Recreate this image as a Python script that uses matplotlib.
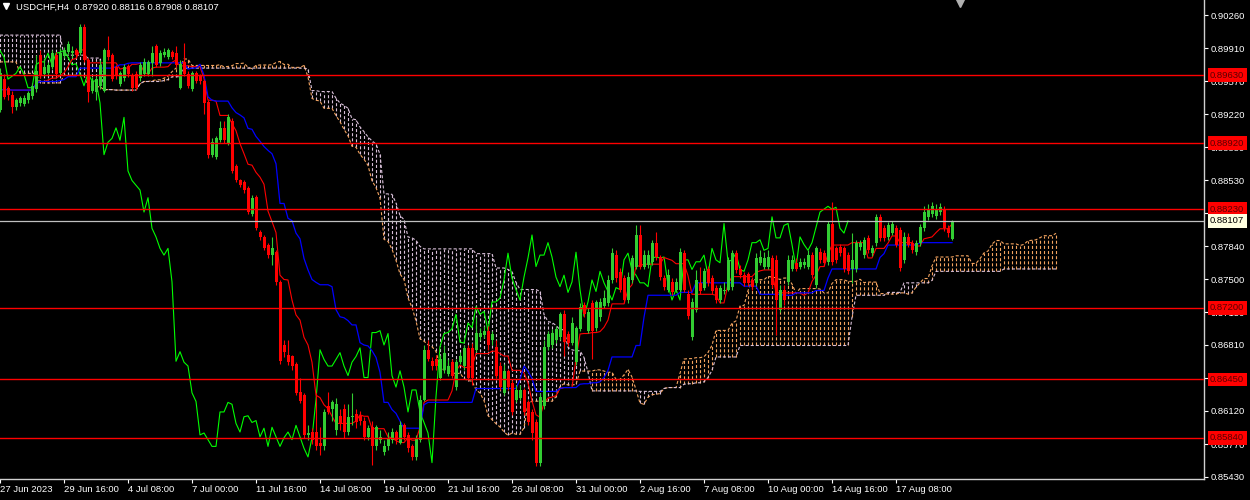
import numpy as np
import pandas as pd
import matplotlib
matplotlib.use('Agg')
import matplotlib.pyplot as plt
import matplotlib.transforms as mtransforms

plt.rcParams['font.family'] = ['Liberation Sans', 'DejaVu Sans']
plt.rcParams['lines.scale_dashes'] = False

symbol = 'USDCHF,H4'
last_ohlc = [0.87920, 0.88116, 0.87908, 0.88107]

# H4 candles, 27 Jun 2023 00:00 .. 21 Aug 2023 16:00
opens = [
    0.8927, 0.8959, 0.8950, 0.8942, 0.8930, 0.8934, 0.8933, 0.8937, 0.8941, 0.8949,
    0.8984, 0.8964, 0.8965, 0.8972, 0.8984, 0.8965, 0.8983, 0.8987, 0.8986, 0.8989,
    0.8986, 0.9013, 0.8979, 0.8947, 0.8945, 0.8952, 0.8947, 0.8989, 0.8984, 0.8972,
    0.8954, 0.8960, 0.8973, 0.8962, 0.8964, 0.8960, 0.8964, 0.8964, 0.8976, 0.8994,
    0.8976, 0.8984, 0.8982, 0.8987, 0.8986, 0.8950, 0.8977, 0.8964, 0.8949, 0.8965,
    0.8962, 0.8957, 0.8935, 0.8880, 0.8878, 0.8895, 0.8908, 0.8892, 0.8915, 0.8868,
    0.8853, 0.8851, 0.8845, 0.8818, 0.8836, 0.8799, 0.8794, 0.8786, 0.8775, 0.8778,
    0.8747, 0.8681, 0.8671, 0.8669, 0.8661, 0.8632, 0.8629, 0.8587, 0.8590, 0.8590,
    0.8579, 0.8575, 0.8617, 0.8614, 0.8592, 0.8607, 0.8614, 0.8590, 0.8606, 0.8609,
    0.8607, 0.8602, 0.8585, 0.8595, 0.8575, 0.8582, 0.8569, 0.8575, 0.8582, 0.8590,
    0.8579, 0.8597, 0.8587, 0.8575, 0.8564, 0.8582, 0.8624, 0.8676, 0.8664, 0.8666,
    0.8647, 0.8655, 0.8651, 0.8663, 0.8637, 0.8663, 0.8659, 0.8678, 0.8678, 0.8676,
    0.8689, 0.8691, 0.8696, 0.8686, 0.8679, 0.8659, 0.8631, 0.8654, 0.8641, 0.8624,
    0.8626, 0.8634, 0.8621, 0.8611, 0.8600, 0.8558, 0.8617, 0.8679, 0.8681, 0.8686,
    0.8689, 0.8713, 0.8693, 0.8683, 0.8663, 0.8698, 0.8723, 0.8696, 0.8725, 0.8699,
    0.8710, 0.8722, 0.8725, 0.8749, 0.8775, 0.8757, 0.8751, 0.8728, 0.8749, 0.8763,
    0.8796, 0.8763, 0.8765, 0.8768, 0.8788, 0.8773, 0.8751, 0.8739, 0.8747, 0.8739,
    0.8739, 0.8777, 0.8734, 0.8689, 0.8718, 0.8746, 0.8741, 0.8760, 0.8751, 0.8741,
    0.8728, 0.8737, 0.8739, 0.8742, 0.8777, 0.8760, 0.8754, 0.8755, 0.8749, 0.8746,
    0.8767, 0.8763, 0.8763, 0.8772, 0.8770, 0.8718, 0.8739, 0.8747, 0.8760, 0.8767,
    0.8763, 0.8765, 0.8763, 0.8775, 0.8744, 0.8778, 0.8777, 0.8768, 0.8808, 0.8782,
    0.8783, 0.8782, 0.8775, 0.8760, 0.8760, 0.8783, 0.8775, 0.8793, 0.8777, 0.8788,
    0.8815, 0.8803, 0.8794, 0.8798, 0.8803, 0.8801, 0.8770, 0.8794, 0.8788, 0.8778,
    0.8788, 0.8803, 0.8815, 0.8818, 0.8816, 0.8820, 0.8823, 0.8803, 0.87920,
]
highs = [
    0.8971, 0.8964, 0.8952, 0.8947, 0.8939, 0.8941, 0.8942, 0.8947, 0.8955, 0.8984,
    0.8989, 0.8981, 0.8977, 0.8989, 0.8987, 0.8991, 0.8993, 0.8999, 0.8994, 0.8992,
    0.9017, 0.9017, 0.8981, 0.8961, 0.8962, 0.8979, 0.8992, 0.9004, 0.8986, 0.8974,
    0.8967, 0.8975, 0.8975, 0.8965, 0.8967, 0.8977, 0.8981, 0.8979, 0.8994, 0.8996,
    0.8989, 0.8991, 0.8991, 0.8989, 0.8994, 0.8979, 0.8997, 0.8967, 0.8967, 0.8967,
    0.8964, 0.8959, 0.8937, 0.8897, 0.8900, 0.8915, 0.8915, 0.8922, 0.8918, 0.8870,
    0.8855, 0.8853, 0.8847, 0.8838, 0.8838, 0.8801, 0.8796, 0.8788, 0.8794, 0.8780,
    0.8749, 0.8686, 0.8686, 0.8671, 0.8663, 0.8647, 0.8631, 0.8597, 0.8594, 0.8631,
    0.8595, 0.8614, 0.8632, 0.8624, 0.8626, 0.8614, 0.8619, 0.8619, 0.8631, 0.8614,
    0.8612, 0.8606, 0.8597, 0.8602, 0.8597, 0.8592, 0.8582, 0.8590, 0.8594, 0.8592,
    0.8602, 0.8599, 0.8590, 0.8577, 0.8587, 0.8629, 0.8681, 0.8686, 0.8668, 0.8671,
    0.8671, 0.8681, 0.8666, 0.8666, 0.8666, 0.8674, 0.8681, 0.8681, 0.8683, 0.8710,
    0.8699, 0.8701, 0.8701, 0.8696, 0.8686, 0.8663, 0.8661, 0.8656, 0.8644, 0.8639,
    0.8639, 0.8636, 0.8624, 0.8614, 0.8604, 0.8631, 0.8686, 0.8696, 0.8698, 0.8701,
    0.8716, 0.8718, 0.8696, 0.8710, 0.8701, 0.8725, 0.8726, 0.8720, 0.8728, 0.8728,
    0.8730, 0.8739, 0.8754, 0.8782, 0.8780, 0.8761, 0.8754, 0.8757, 0.8775, 0.8806,
    0.8806, 0.8780, 0.8780, 0.8791, 0.8799, 0.8775, 0.8754, 0.8760, 0.8751, 0.8751,
    0.8782, 0.8780, 0.8739, 0.8730, 0.8759, 0.8763, 0.8762, 0.8764, 0.8754, 0.8744,
    0.8744, 0.8747, 0.8773, 0.8780, 0.8780, 0.8765, 0.8757, 0.8757, 0.8752, 0.8777,
    0.8780, 0.8778, 0.8780, 0.8775, 0.8775, 0.8744, 0.8744, 0.8775, 0.8775, 0.8772,
    0.8772, 0.8772, 0.8780, 0.8778, 0.8785, 0.8782, 0.8780, 0.8811, 0.8830, 0.8785,
    0.8787, 0.8785, 0.8778, 0.8798, 0.8791, 0.8791, 0.8794, 0.8796, 0.8786, 0.8818,
    0.8818, 0.8806, 0.8810, 0.8811, 0.8806, 0.8804, 0.8799, 0.8798, 0.8791, 0.8791,
    0.8807, 0.8826, 0.8828, 0.8830, 0.8828, 0.8829, 0.8826, 0.8806, 0.88116,
]
lows = [
    0.8925, 0.8938, 0.8937, 0.8924, 0.8927, 0.8931, 0.8931, 0.8934, 0.8938, 0.8945,
    0.8960, 0.8962, 0.8963, 0.8970, 0.8962, 0.8963, 0.8981, 0.8985, 0.8981, 0.8982,
    0.8984, 0.8977, 0.8935, 0.8944, 0.8937, 0.8949, 0.8945, 0.8979, 0.8957, 0.8959,
    0.8952, 0.8957, 0.8961, 0.8947, 0.8948, 0.8957, 0.8962, 0.8962, 0.8962, 0.8972,
    0.8973, 0.8982, 0.8980, 0.8980, 0.8972, 0.8949, 0.8962, 0.8950, 0.8947, 0.8955,
    0.8954, 0.8922, 0.8877, 0.8878, 0.8875, 0.8893, 0.8892, 0.8890, 0.8861, 0.8851,
    0.8846, 0.8840, 0.8818, 0.8816, 0.8801, 0.8791, 0.8780, 0.8772, 0.8765, 0.8744,
    0.8661, 0.8668, 0.8660, 0.8655, 0.8629, 0.8620, 0.8584, 0.8582, 0.8577, 0.8571,
    0.8566, 0.8571, 0.8609, 0.8602, 0.8587, 0.8592, 0.8584, 0.8587, 0.8597, 0.8594,
    0.8597, 0.8582, 0.8582, 0.8556, 0.8571, 0.8579, 0.8566, 0.8571, 0.8579, 0.8577,
    0.8577, 0.8582, 0.8569, 0.8561, 0.8561, 0.8580, 0.8622, 0.8664, 0.8655, 0.8655,
    0.8644, 0.8652, 0.8649, 0.8646, 0.8634, 0.8661, 0.8655, 0.8644, 0.8639, 0.8674,
    0.8686, 0.8688, 0.8676, 0.8681, 0.8646, 0.8634, 0.8629, 0.8634, 0.8608, 0.8621,
    0.8624, 0.8608, 0.8597, 0.8582, 0.8555, 0.8555, 0.8614, 0.8676, 0.8678, 0.8683,
    0.8686, 0.8669, 0.8680, 0.8681, 0.8660, 0.8696, 0.8710, 0.8694, 0.8666, 0.8696,
    0.8706, 0.8720, 0.8722, 0.8746, 0.8747, 0.8736, 0.8725, 0.8725, 0.8746, 0.8760,
    0.8760, 0.8760, 0.8762, 0.8765, 0.8770, 0.8749, 0.8739, 0.8736, 0.8733, 0.8736,
    0.8736, 0.8736, 0.8708, 0.8686, 0.8716, 0.8734, 0.8739, 0.8743, 0.8734, 0.8725,
    0.8725, 0.8734, 0.8737, 0.8739, 0.8756, 0.8751, 0.8743, 0.8743, 0.8739, 0.8743,
    0.8765, 0.8760, 0.8760, 0.8741, 0.8691, 0.8715, 0.8723, 0.8744, 0.8758, 0.8758,
    0.8760, 0.8762, 0.8760, 0.8751, 0.8741, 0.8767, 0.8764, 0.8765, 0.8765, 0.8767,
    0.8774, 0.8757, 0.8755, 0.8746, 0.8757, 0.8780, 0.8772, 0.8777, 0.8774, 0.8785,
    0.8790, 0.8790, 0.8791, 0.8796, 0.8783, 0.8758, 0.8767, 0.8783, 0.8777, 0.8775,
    0.8785, 0.8800, 0.8812, 0.8815, 0.8813, 0.8817, 0.8800, 0.8794, 0.87908,
]
closes = [
    0.8965, 0.8940, 0.8942, 0.8930, 0.8937, 0.8939, 0.8939, 0.8944, 0.8952, 0.8967,
    0.8962, 0.8972, 0.8974, 0.8986, 0.8964, 0.8986, 0.8989, 0.8996, 0.8988, 0.8984,
    0.9013, 0.8979, 0.8945, 0.8957, 0.8959, 0.8974, 0.8989, 0.8982, 0.8959, 0.8962,
    0.8965, 0.8972, 0.8964, 0.8950, 0.8950, 0.8974, 0.8977, 0.8977, 0.8986, 0.8974,
    0.8986, 0.8987, 0.8989, 0.8982, 0.8974, 0.8975, 0.8964, 0.8952, 0.8965, 0.8957,
    0.8957, 0.8934, 0.8880, 0.8893, 0.8897, 0.8908, 0.8895, 0.8919, 0.8863, 0.8853,
    0.8848, 0.8843, 0.8820, 0.8835, 0.8803, 0.8794, 0.8782, 0.8775, 0.8782, 0.8747,
    0.8664, 0.8674, 0.8663, 0.8659, 0.8631, 0.8622, 0.8587, 0.8589, 0.8582, 0.8575,
    0.8575, 0.8611, 0.8611, 0.8621, 0.8619, 0.8599, 0.8590, 0.8606, 0.8607, 0.8600,
    0.8602, 0.8585, 0.8594, 0.8575, 0.8595, 0.8585, 0.8575, 0.8584, 0.8590, 0.8582,
    0.8597, 0.8585, 0.8573, 0.8564, 0.8584, 0.8624, 0.8676, 0.8666, 0.8659, 0.8659,
    0.8666, 0.8673, 0.8659, 0.8649, 0.8663, 0.8669, 0.8678, 0.8647, 0.8647, 0.8694,
    0.8694, 0.8696, 0.8681, 0.8693, 0.8649, 0.8637, 0.8654, 0.8637, 0.8611, 0.8634,
    0.8634, 0.8611, 0.8600, 0.8589, 0.8558, 0.8627, 0.8679, 0.8693, 0.8694, 0.8698,
    0.8713, 0.8684, 0.8683, 0.8704, 0.8699, 0.8721, 0.8713, 0.8716, 0.8696, 0.8726,
    0.8726, 0.8730, 0.8749, 0.8777, 0.8751, 0.8739, 0.8728, 0.8752, 0.8772, 0.8796,
    0.8763, 0.8775, 0.8775, 0.8788, 0.8773, 0.8752, 0.8742, 0.8754, 0.8736, 0.8747,
    0.8778, 0.8739, 0.8711, 0.8726, 0.8749, 0.8737, 0.8758, 0.8746, 0.8737, 0.8728,
    0.8741, 0.8739, 0.8770, 0.8777, 0.8759, 0.8754, 0.8746, 0.8746, 0.8742, 0.8772,
    0.8773, 0.8772, 0.8773, 0.8744, 0.8728, 0.8739, 0.8728, 0.8770, 0.8770, 0.8760,
    0.8768, 0.8768, 0.8775, 0.8754, 0.8782, 0.8770, 0.8767, 0.8808, 0.8768, 0.8770,
    0.8777, 0.8760, 0.8758, 0.8770, 0.8788, 0.8788, 0.8791, 0.8780, 0.8782, 0.8815,
    0.8793, 0.8793, 0.8806, 0.8808, 0.8786, 0.8762, 0.8794, 0.8786, 0.8780, 0.8788,
    0.8804, 0.8820, 0.8823, 0.8826, 0.8823, 0.8825, 0.8803, 0.8798, 0.88107,
]

# cloud over the first 26 bars (comes from bars left of the window)
span_a_head = [0.8977] * 5 + [0.8965] * 5 + [0.8955] * 6 + [0.8963] * 6 + [0.8951] * 4
span_b_head = [0.9005] * 16 + [0.8984] * 6 + [0.8981] * 4

level_lines = [0.89630, 0.88920, 0.88230, 0.87200, 0.86450, 0.85840]
price_ticks = [0.90260, 0.89910, 0.89570, 0.89220, 0.88880, 0.88530, 0.88190, 0.87840,
               0.87500, 0.87150, 0.86810, 0.86470, 0.86120, 0.85770, 0.85430]
date_labels = ['27 Jun 2023', '29 Jun 16:00', '4 Jul 08:00', '7 Jul 00:00', '11 Jul 16:00',
               '14 Jul 08:00', '19 Jul 00:00', '21 Jul 16:00', '26 Jul 08:00', '31 Jul 00:00',
               '2 Aug 16:00', '7 Aug 08:00', '10 Aug 00:00', '14 Aug 16:00', '17 Aug 08:00']

BULL = '#32cd32'
BEAR = '#ff0000'
SANDY = '#f4a460'
THISTLE = '#d8bfd8'
DOTS = (0, (2.2, 1.5))

df = pd.DataFrame({'o': opens, 'h': highs, 'l': lows, 'c': closes})
n = len(df)


def mid(period):
    return (df.h.rolling(period, min_periods=1).max() + df.l.rolling(period, min_periods=1).min()) / 2


tenkan = mid(9)
kijun = mid(26)
span_a = np.concatenate([span_a_head, ((tenkan + kijun) / 2).values])
span_b = np.concatenate([span_b_head, mid(52).values])
pos = np.arange(len(span_a))

fig = plt.figure(figsize=(12.5, 5), dpi=100, facecolor='black')
ax = fig.add_axes([0, 21 / 500, 1204 / 1250, 479 / 500], facecolor='black')
ax.set_xlim(0, 301)
ax.set_ylim(0.85409, 0.90417)

# kumo
up_cloud = span_a >= span_b
ax.vlines(pos, np.minimum(span_a, span_b), np.maximum(span_a, span_b),
          colors=[SANDY if u else THISTLE for u in up_cloud], linestyles=DOTS, lw=0.8, zorder=1)
ax.plot(pos, span_a, color=SANDY, ls=DOTS, lw=0.8, zorder=1.5)
ax.plot(pos, span_b, color=THISTLE, ls=DOTS, lw=0.8, zorder=1.5)

x = np.arange(n)
ax.plot(x - 26, df.c, color='#00ff00', lw=0.8, zorder=2)   # chikou
ax.plot(x, tenkan, color='red', lw=0.8, zorder=2)
ax.plot(x, kijun, color='blue', lw=0.9, zorder=2)

# candles
up = (df.c >= df.o).values
for mask, col in [(up, BULL), (~up, BEAR)]:
    ax.vlines(x[mask], df.l[mask], df.h[mask], color=col, lw=0.8, zorder=3)
    body = (df.c - df.o).abs().clip(lower=0.00005)[mask]
    ax.bar(x[mask], body, bottom=np.minimum(df.o, df.c)[mask], width=0.75,
           color=col, lw=0, zorder=3)

for v in level_lines:
    ax.axhline(v, color='red', lw=1.0, zorder=4)
ax.axhline(closes[-1], color='#c0c0c0', lw=0.9, zorder=4)

# axes styling
for side in ['left', 'top']:
    ax.spines[side].set_visible(False)
for side in ['right', 'bottom']:
    ax.spines[side].set_color('#d0d0d0')
    ax.spines[side].set_linewidth(1)

ax.yaxis.tick_right()
ax.set_yticks(price_ticks)
ax.set_yticklabels([f'{v:.5f}' for v in price_ticks])
ax.tick_params(axis='y', colors='white', labelsize=6.8, length=3, width=0.8, pad=2)

ax.set_xticks(np.arange(len(date_labels)) * 16)
ax.set_xticklabels(date_labels, ha='left')
ax.tick_params(axis='x', colors='white', labelsize=6.8, length=3, width=0.8, pad=1.5)

trans = mtransforms.blended_transform_factory(ax.transAxes, ax.transData)
for v in level_lines:
    ax.text(1.005, v, f'{v:.5f}', transform=trans, fontsize=6.8, color='#5a0000',
            va='center', ha='left', clip_on=False, zorder=10,
            bbox=dict(boxstyle='square,pad=0.25', fc='red', ec='none'))
ax.text(1.005, closes[-1], f'{closes[-1]:.5f}', transform=trans, fontsize=6.8, color='black',
        va='center', ha='left', clip_on=False, zorder=10,
        bbox=dict(boxstyle='square,pad=0.25', fc='#ffffe0', ec='none'))

# header
fig.text(16 / 1250, 1 - 7 / 500, f'{symbol}  ' + ' '.join(f'{v:.5f}' for v in last_ohlc),
         color='white', fontsize=6.8, va='center', ha='left')
ax.plot([6 / 1204], [1 - 6 / 479], marker='v', color='white', ms=4.5,
        transform=ax.transAxes, clip_on=False)
ax.plot([960 / 1204], [1 - 2 / 479], marker='v', color='#b0b0b0', ms=7,
        transform=ax.transAxes, clip_on=False)

fig.savefig('out.png', dpi=100, facecolor='black')
